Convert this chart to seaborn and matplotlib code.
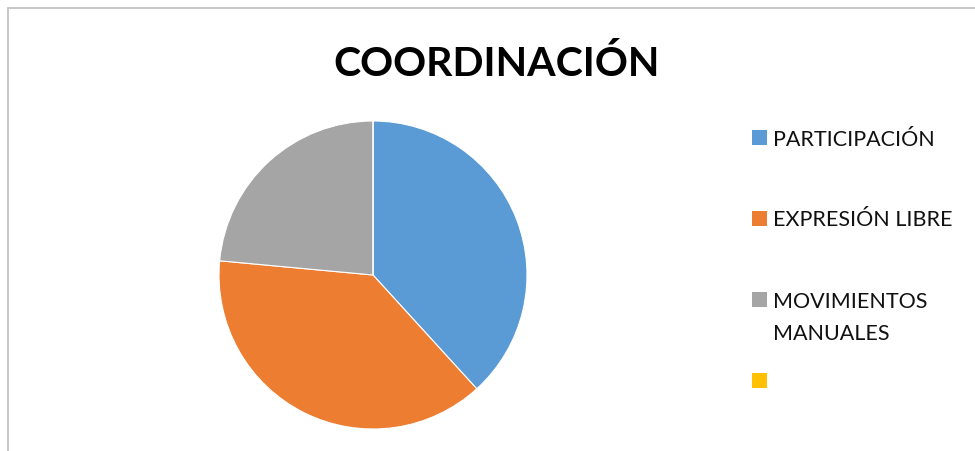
import textwrap
import matplotlib
matplotlib.use("Agg")
import matplotlib.pyplot as plt
from matplotlib.patches import Rectangle
import seaborn as sns

# datos del gráfico
categorias = ["PARTICIPACIÓN", "EXPRESIÓN LIBRE", "MOVIMIENTOS MANUALES", ""]
valores = [13, 13, 8, 0]
colores = ["#5B9BD5", "#ED7D31", "#A5A5A5", "#FFC000"]
titulo = "COORDINACIÓN"

sns.set_theme(style="white")
plt.rcParams["font.family"] = ["Lato", "DejaVu Sans"]

W, H = 975, 451
fig = plt.figure(figsize=(W / 100, H / 100), dpi=100)
fig.patch.set_facecolor("white")

# marco gris del área del gráfico
fig.patches.append(Rectangle((8 / W, -0.05), 1.2, (H - 8) / H + 0.05,
                             transform=fig.transFigure, fill=False,
                             edgecolor="#BFBFBF", linewidth=1.2))

cx, cy, r = 373, H - 275, 154
ax = fig.add_axes([(cx - r) / W, (cy - r) / H, 2 * r / W, 2 * r / H])
paleta = sns.color_palette(colores)
ax.pie(valores, colors=paleta, startangle=90, counterclock=False,
       wedgeprops=dict(edgecolor="white", linewidth=0.8))
ax.set_aspect("equal")
ax.set_xlim(-1, 1)
ax.set_ylim(-1, 1)
ax.axis("off")

fig.text(497 / W, 1 - 76 / H, titulo, ha="center", va="baseline",
         fontsize=29.5, fontweight="bold", color="black")

# leyenda manual
y0, paso = 137.5, 81
for i, (lab, col) in enumerate(zip(categorias, paleta)):
    yc = y0 + i * paso
    fig.patches.append(Rectangle((752 / W, 1 - (yc + 7.5) / H), 15 / W, 15 / H,
                                 transform=fig.transFigure, facecolor=col,
                                 edgecolor="none"))
    if lab:
        for j, linea in enumerate(textwrap.wrap(lab, 15)):
            fig.text(773 / W, 1 - (yc + 8 + j * 32.5) / H, linea,
                     ha="left", va="baseline", fontsize=15.5, color="#111111")

fig.savefig("out.png", dpi=100, facecolor="white")
